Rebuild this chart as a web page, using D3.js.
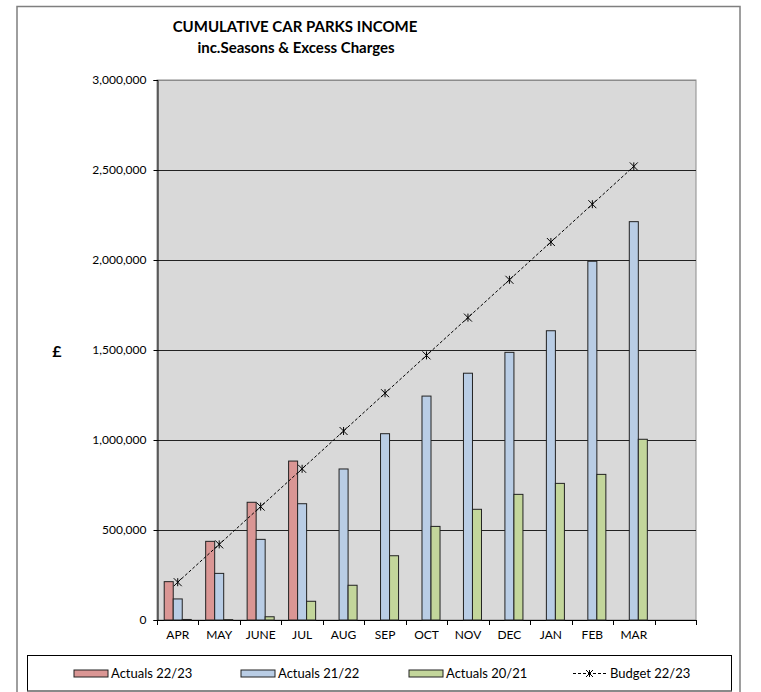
<!DOCTYPE html>
<html>
<head>
<meta charset="utf-8">
<script src="https://cdn.jsdelivr.net/npm/d3@7"></script>
<style>
  body { margin: 0; background: #fff; }
  text { font-family: Lato, "Open Sans", sans-serif; }
</style>
</head>
<body>
<svg id="chart"></svg>
<script>
// months (13th band left empty, as in the original)
const months = ["APR", "MAY", "JUNE", "JUL", "AUG", "SEP", "OCT", "NOV", "DEC", "JAN", "FEB", "MAR", ""];
const actuals2223 = [213000, 437000, 654000, 883000, null, null, null, null, null, null, null, null];
const actuals2122 = [117000, 259000, 448000, 646000, 839000, 1035000, 1244000, 1371000, 1487000, 1607000, 1993000, 2213000];
const actuals2021 = [3000, 2000, 18000, 104000, 193000, 357000, 520000, 615000, 698000, 759000, 809000, 1004000];
const budget2223 = [210000, 420000, 630000, 840000, 1050000, 1260000, 1470000, 1680000, 1890000, 2100000, 2310000, 2520000];
const yTicks = [0, 500000, 1000000, 1500000, 2000000, 2500000, 3000000];

const seriesNames = ["Actuals  22/23", "Actuals  21/22", "Actuals 20/21"];
const seriesColors = ["#da9694", "#b9cde5", "#c3d69b"];
const seriesData = [actuals2223, actuals2122, actuals2021];

const W = 761, H = 692;
const svg = d3.select("#chart").attr("width", W).attr("height", H);

// outer chart frame
svg.append("rect").attr("x", 17).attr("y", 6.5).attr("width", 723).attr("height", 700)
    .attr("fill", "#fff").attr("stroke", "#7f7f7f").attr("stroke-width", 1.5);

const plot = {left: 157, right: 696, top: 80, bottom: 620};

const x = d3.scaleBand().domain(d3.range(months.length)).range([plot.left, plot.right]);
const y = d3.scaleLinear().domain([0, 3000000]).range([plot.bottom, plot.top]);
const inner = d3.scaleBand().domain([0, 1, 2]).range([0, x.bandwidth()]).paddingOuter(0.8).paddingInner(0);

// plot background
svg.append("rect").attr("x", plot.left).attr("y", plot.top)
    .attr("width", plot.right - plot.left).attr("height", plot.bottom - plot.top)
    .attr("fill", "#d9d9d9").attr("stroke", "#8c8c8c");

// gridlines
svg.append("g").selectAll("line").data(yTicks.slice(1)).join("line")
    .attr("x1", plot.left).attr("x2", plot.right)
    .attr("y1", d => Math.round(y(d)) + 0.5).attr("y2", d => Math.round(y(d)) + 0.5)
    .attr("stroke", d => d === 3000000 ? "#8c8c8c" : "#222").attr("stroke-width", 1);

// y axis
const yAxis = svg.append("g").attr("transform", `translate(${plot.left + 0.5},0)`)
    .call(d3.axisLeft(y).tickValues(yTicks).tickSize(4).tickPadding(7).tickFormat(d3.format(",")));
yAxis.select(".domain").attr("stroke", "#000");
yAxis.selectAll(".tick line").attr("stroke", "#000");
yAxis.selectAll("text").attr("font-size", 12).attr("fill", "#000")
    .style("font-family", "Lato, sans-serif");

// x axis (ticks at band boundaries)
const xg = svg.append("g");
xg.append("line").attr("x1", plot.left).attr("x2", plot.right)
    .attr("y1", plot.bottom + 0.5).attr("y2", plot.bottom + 0.5).attr("stroke", "#000");
const bounds = d3.range(months.length + 1).map(i => i < months.length ? x(i) : x(i - 1) + x.bandwidth());
xg.selectAll("line.tk").data(bounds).join("line").attr("class", "tk")
    .attr("x1", d => Math.round(d) + 0.5).attr("x2", d => Math.round(d) + 0.5)
    .attr("y1", plot.bottom).attr("y2", plot.bottom + 5).attr("stroke", "#000");
xg.selectAll("text").data(months).join("text")
    .attr("x", (d, i) => x(i) + x.bandwidth() / 2).attr("y", plot.bottom + 19)
    .attr("text-anchor", "middle").attr("font-size", 12).text(d => d);

// bars
seriesData.forEach((vals, s) => {
    svg.append("g").selectAll("rect").data(vals.map((v, i) => ({v, i})).filter(d => d.v != null)).join("rect")
        .attr("x", d => x(d.i) + inner(s))
        .attr("y", d => y(d.v))
        .attr("width", inner.bandwidth())
        .attr("height", d => plot.bottom - y(d.v))
        .attr("fill", seriesColors[s])
        .attr("stroke", "#222").attr("stroke-width", 1);
});

// budget line
const cx = i => x(i) + x.bandwidth() / 2;
svg.append("path")
    .attr("d", d3.line().x((d, i) => cx(i)).y(d => y(d))(budget2223))
    .attr("fill", "none").attr("stroke", "#000").attr("stroke-width", 1).attr("stroke-dasharray", "3,2");

function star(g, px, py, r) {
    g.append("path")
        .attr("d", `M${px - r},${py - r}L${px + r},${py + r}M${px - r},${py + r}L${px + r},${py - r}M${px},${py - r}L${px},${py + r}`)
        .attr("stroke", "#000").attr("stroke-width", 1).attr("fill", "none");
}
const markers = svg.append("g");
budget2223.forEach((v, i) => star(markers, cx(i), y(v), 4));

// titles
svg.append("text").attr("x", 295).attr("y", 32).attr("text-anchor", "middle")
    .attr("font-size", 15).attr("font-weight", "bold").text("CUMULATIVE CAR PARKS INCOME");
svg.append("text").attr("x", 296).attr("y", 53).attr("text-anchor", "middle")
    .attr("font-size", 15).attr("font-weight", "bold").text("inc.Seasons & Excess Charges");
svg.append("text").attr("x", 57).attr("y", 357).attr("text-anchor", "middle")
    .attr("font-size", 16).attr("font-weight", "bold").text("£");

// legend
const lg = svg.append("g");
lg.append("rect").attr("x", 27.5).attr("y", 655.5).attr("width", 704).attr("height", 35.5)
    .attr("fill", "#fff").attr("stroke", "#000");
lg.append("line").attr("x1", 27.5).attr("x2", 731.5).attr("y1", 691).attr("y2", 691)
    .attr("stroke", "#8c8c8c").attr("stroke-width", 1.5);
const legX = [74, 241, 409];
seriesNames.forEach((n, s) => {
    lg.append("rect").attr("x", legX[s]).attr("y", 670).attr("width", 34).attr("height", 7)
        .attr("fill", seriesColors[s]).attr("stroke", "#222");
    lg.append("text").attr("x", legX[s] + 37).attr("y", 677.5).attr("font-size", 13).text(n);
});
lg.append("line").attr("x1", 573).attr("x2", 607).attr("y1", 673.5).attr("y2", 673.5)
    .attr("stroke", "#000").attr("stroke-dasharray", "3,2");
star(lg, 589.5, 673.5, 3.5);
lg.append("text").attr("x", 610).attr("y", 677.5).attr("font-size", 13).text("Budget 22/23");
</script>
</body>
</html>
